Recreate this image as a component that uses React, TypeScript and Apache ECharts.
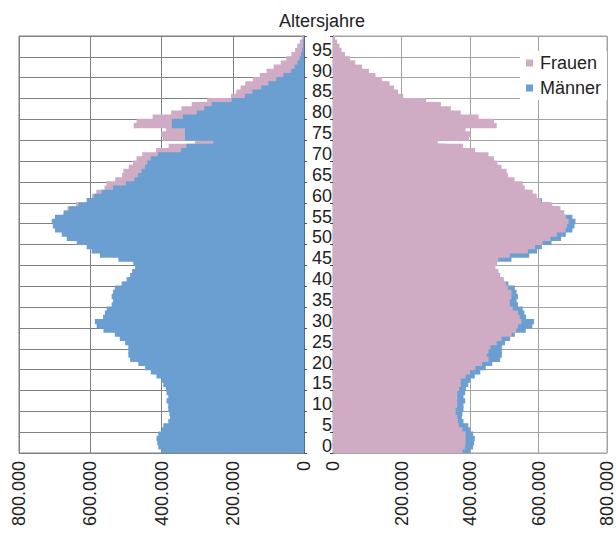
import React, { useEffect, useRef } from "react";
import * as echarts from "echarts";

// Ages 0..99 (category axis)
const ages: string[] = Array.from({ length: 100 }, (_, i) => String(i));

// Population in thousands, index = age
const menK: number[] = [
  400, 409, 412, 414, 409, 400, 395, 381, 376, 378,
  381, 381, 386, 381, 386, 388, 395, 400, 414, 430,
  446, 465, 488, 493, 493, 493, 502, 517, 531, 563,
  582, 587, 564, 559, 554, 540, 536, 540, 536, 531,
  512, 498, 488, 482, 474, 479, 521, 573, 596, 610,
  638, 666, 680, 699, 705, 708, 699, 675, 660, 633,
  610, 590, 568, 536, 500, 476, 466, 456, 446, 440,
  430, 410, 345, 330, 255, 334, 334, 334, 371, 371,
  340, 301, 280, 259, 203, 166, 145, 120, 100, 78,
  58, 36, 26, 18, 12, 8, 5, 3, 2, 1,
];

const womenK: number[] = [
  378, 385, 387, 387, 387, 378, 368, 365, 363, 358,
  358, 363, 363, 363, 363, 368, 373, 373, 387, 400,
  416, 435, 454, 449, 454, 460, 478, 492, 521, 535,
  540, 550, 545, 540, 525, 516, 516, 521, 521, 511,
  505, 497, 487, 483, 473, 478, 483, 516, 569, 590,
  612, 635, 654, 679, 683, 688, 680, 674, 664, 640,
  607, 595, 583, 560, 554, 530, 511, 507, 492, 480,
  470, 454, 415, 380, 306, 397, 401, 387, 478, 470,
  425, 373, 344, 315, 272, 205, 190, 178, 165, 143,
  124, 105, 85, 65, 50, 35, 25, 19, 12, 6,
];

const seriesNames = ["Frauen", "Männer"];
const titleText = "Altersjahre";

const PINK = "#cfabc4";
const BLUE = "#6b9ed1";
const FONT = "'Liberation Sans', Arial, Helvetica, sans-serif";

const fmt = (v: number) => String(v).replace(/\B(?=(\d{3})+(?!\d))/g, ".");

export default function App() {
  const ref = useRef<HTMLDivElement>(null);

  useEffect(() => {
    if (!ref.current) return;
    const chart = echarts.init(ref.current, undefined, { renderer: "svg" });
    const men = menK.map((v) => v * 1000);
    const women = womenK.map((v) => v * 1000);

    const xAxisBase = (grid: number, inverse: boolean, splitColor: string) => ({
      gridIndex: grid,
      type: "value" as const,
      inverse,
      min: 0,
      max: 800000,
      interval: 200000,
      axisLine: { show: false },
      axisTick: { show: false },
      splitLine: { show: true, lineStyle: { color: splitColor, width: 1 } },
      axisLabel: {
        rotate: 90,
        margin: 8,
        fontSize: 18,
        fontFamily: FONT,
        color: "#222",
        formatter: (v: number) => fmt(v),
      },
    });

    const barCommon = {
      type: "bar" as const,
      barWidth: 5.4,
      barGap: "-100%",
      silent: true,
    };
    const style = (c: string) => ({ color: c, borderWidth: 0 });

    chart.setOption({
      animation: false,
      backgroundColor: "#fff",
      textStyle: { fontFamily: FONT },
      title: {
        text: titleText,
        left: 274,
        top: 7,
        textStyle: { fontSize: 18, fontWeight: "normal", color: "#222", fontFamily: FONT },
      },
      legend: {
        data: seriesNames.map((n) => ({ name: n })),
        orient: "vertical",
        left: 520,
        top: 51,
        icon: "rect",
        itemWidth: 7,
        itemHeight: 7,
        itemGap: 7,
        backgroundColor: "#fff",
        padding: [3, 6, 3, 6],
        itemStyle: { borderWidth: 0 },
        textStyle: { fontSize: 18, color: "#222", fontFamily: FONT, padding: [0, 0, 0, 2] },
      },
      grid: [
        { left: 19, right: 312, top: 36, bottom: 80, show: true, borderColor: "#808080", borderWidth: 1, backgroundColor: "transparent" },
        { left: 333, right: 4, top: 36, bottom: 80, show: true, borderColor: "#a3a3a3", borderWidth: 1, backgroundColor: "transparent" },
      ],
      xAxis: [xAxisBase(0, true, "#808080"), xAxisBase(1, false, "#a3a3a3")],
      yAxis: [
        {
          gridIndex: 0,
          type: "category",
          data: ages,
          position: "right",
          axisLine: { show: true, lineStyle: { color: "#3f6597", width: 1.5 } },
          axisTick: { show: true, interval: 4, length: 3, lineStyle: { color: "#555" } },
          axisLabel: { show: false },
          splitLine: { show: true, interval: 4, lineStyle: { color: "#808080" } },
        },
        {
          gridIndex: 1,
          type: "category",
          data: ages,
          position: "left",
          axisLine: { show: true, lineStyle: { color: "#5b6f8f", width: 1 } },
          axisTick: { show: true, interval: 4, length: 3, lineStyle: { color: "#444" } },
          axisLabel: {
            show: true,
            interval: 4,
            margin: 1,
            fontSize: 18,
            lineHeight: 10,
            fontFamily: FONT,
            color: "#222",
            verticalAlign: "bottom",
          },
          splitLine: { show: true, interval: 4, lineStyle: { color: "#a3a3a3" } },
        },
      ],
      series: [
        { ...barCommon, name: "Frauen", xAxisIndex: 0, yAxisIndex: 0, data: women, itemStyle: style(PINK) },
        { ...barCommon, name: "Männer", xAxisIndex: 0, yAxisIndex: 0, data: men, itemStyle: style(BLUE) },
        { ...barCommon, name: "Männer", xAxisIndex: 1, yAxisIndex: 1, data: men, itemStyle: style(BLUE) },
        { ...barCommon, name: "Frauen", xAxisIndex: 1, yAxisIndex: 1, data: women, itemStyle: style(PINK) },
      ],
    });

    return () => chart.dispose();
  }, []);

  return (
    <div
      ref={ref}
      style={{ position: "fixed", left: 0, top: 0, width: 616, height: 533 }}
    />
  );
}
